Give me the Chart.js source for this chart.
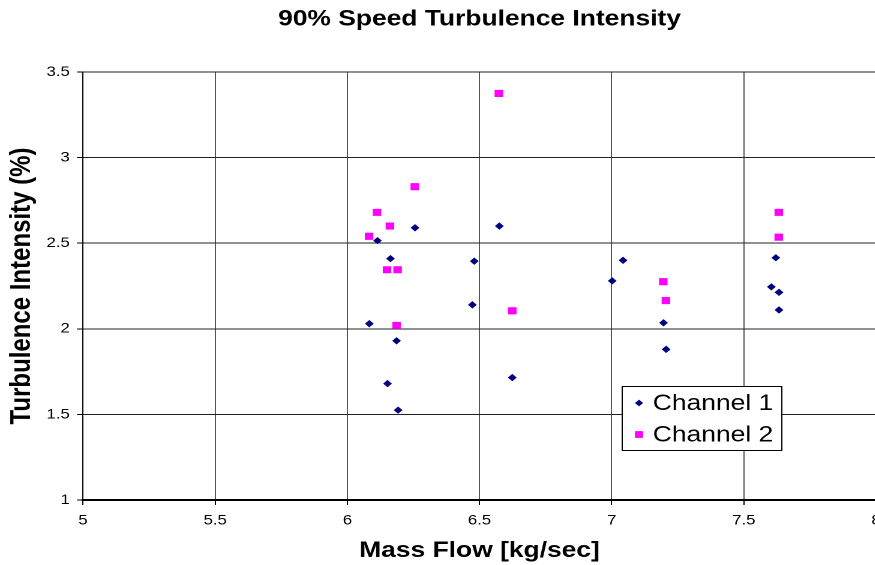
<!DOCTYPE html>
<html>
<head>
<meta charset="utf-8">
<script src="https://cdn.jsdelivr.net/npm/chart.js@4/dist/chart.umd.min.js"></script>
<style>
  html, body { margin: 0; padding: 0; background: #fff; overflow: hidden; }
  /* the reference picture is stretched sideways, so the whole chart is too */
  #wrap { width: 750px; height: 565px; transform: scaleX(1.2); transform-origin: 0 0; }
</style>
</head>
<body>
<div id="wrap"><canvas id="myChart" width="750" height="565"></canvas></div>
<script>
const seriesNames = ["Channel 1", "Channel 2"];

const massFlow1 = [6.256, 6.114, 6.163, 6.083, 6.186, 6.152, 6.192, 6.575, 6.48, 6.473,
                   6.624, 7.043, 7.002, 7.196, 7.206, 7.621, 7.604, 7.633, 7.633];
const intensity1 = [2.59, 2.515, 2.41, 2.03, 1.93, 1.68, 1.525, 2.6, 2.395, 2.14,
                    1.715, 2.4, 2.28, 2.035, 1.88, 2.415, 2.245, 2.213, 2.11];

const massFlow2 = [6.255, 6.112, 6.161, 6.082, 6.15, 6.19, 6.186, 6.573, 6.624,
                   7.195, 7.205, 7.632, 7.632];
const intensity2 = [2.83, 2.68, 2.6, 2.54, 2.345, 2.345, 2.02, 3.375, 2.105,
                    2.275, 2.165, 2.68, 2.535];

const xTickValues = [5, 5.5, 6, 6.5, 7, 7.5, 8];
const yTickValues = [1, 1.5, 2, 2.5, 3, 3.5];

const FONT = '"Liberation Sans", Arial, sans-serif';

function toPoints(xs, ys) {
  return xs.map((x, i) => ({ x: x, y: ys[i] }));
}

// legend drawn inside the plot, like the boxed Excel legend
const boxLegend = {
  id: "boxLegend",
  afterDraw(chart) {
    const ctx = chart.ctx;
    const x0 = 518, y0 = 386, w = 133, h = 64;
    ctx.save();
    ctx.fillStyle = "#fff";
    ctx.fillRect(x0, y0, w, h);
    ctx.strokeStyle = "#000";
    ctx.lineWidth = 1;
    ctx.strokeRect(x0 + 0.5, y0 + 0.5, w, h);
    chart.data.datasets.forEach((ds, i) => {
      const cx = x0 + 14.5;
      const cy = y0 + 17 + i * 31.5;
      ctx.fillStyle = ds.backgroundColor;
      ctx.beginPath();
      if (ds.pointStyle === "rectRot") {
        const r = 3.4;
        ctx.moveTo(cx - r, cy);
        ctx.lineTo(cx, cy - r);
        ctx.lineTo(cx + r, cy);
        ctx.lineTo(cx, cy + r);
      } else {
        ctx.rect(cx - 3.4, cy - 3.4, 6.8, 6.8);
      }
      ctx.closePath();
      ctx.fill();
      ctx.fillStyle = "#000";
      ctx.font = "22px " + FONT;
      ctx.textBaseline = "middle";
      ctx.textAlign = "left";
      ctx.fillText(ds.label, x0 + 26, cy + 1);
    });
    ctx.restore();
  },
};

var ctx = document.getElementById("myChart").getContext("2d");
var chart = new Chart(ctx, {
  type: "scatter",
  data: {
    datasets: [
      {
        label: seriesNames[0],
        data: toPoints(massFlow1, intensity1),
        pointStyle: "rectRot",
        pointRadius: 3.1,
        borderWidth: 0.8,
        backgroundColor: "#000080",
        borderColor: "#000080",
      },
      {
        label: seriesNames[1],
        data: toPoints(massFlow2, intensity2),
        pointStyle: "rect",
        pointRadius: 4.3,
        borderWidth: 1,
        backgroundColor: "#FF00FF",
        borderColor: "#FF00FF",
      },
    ],
  },
  options: {
    responsive: false,
    animation: false,
    devicePixelRatio: 2,
    layout: { padding: { left: 0, right: 20, top: 0, bottom: 0 } },
    plugins: {
      legend: { display: false },
      tooltip: { enabled: false },
      title: {
        display: true,
        fullSize: false,
        text: "90% Speed Turbulence Intensity",
        color: "#000",
        font: { family: FONT, size: 22, weight: "bold" },
        padding: { top: 6, bottom: 39.6 },
      },
    },
    scales: {
      x: {
        type: "linear",
        min: 5,
        max: 8,
        afterBuildTicks: (s) => { s.ticks = xTickValues.map((v) => ({ value: v })); },
        afterFit: (s) => { s.height = 65; },
        ticks: {
          color: "#000",
          font: { family: FONT, size: 14 },
          padding: 7,
          maxRotation: 0,
          callback: (v) => String(v),
        },
        grid: { color: "#555", lineWidth: 1, tickLength: 5, tickColor: "#000" },
        border: { color: "#000", width: 2 },
        title: {
          display: true,
          text: "Mass Flow [kg/sec]",
          color: "#000",
          font: { family: FONT, size: 22, weight: "bold" },
          padding: { top: 0, bottom: 1 },
        },
      },
      y: {
        type: "linear",
        min: 1,
        max: 3.5,
        afterBuildTicks: (s) => { s.ticks = yTickValues.map((v) => ({ value: v })); },
        afterFit: (s) => { s.width = 69.2; },
        ticks: {
          color: "#000",
          font: { family: FONT, size: 14 },
          padding: 6,
          callback: (v) => String(v),
        },
        grid: { color: "#222", lineWidth: 1, tickLength: 5, tickColor: "#000" },
        border: { color: "#000", width: 1 },
        title: {
          display: true,
          text: "Turbulence Intensity (%)",
          color: "#000",
          font: { family: FONT, size: 24, weight: "bold" },
          padding: { top: 4, bottom: 0 },
        },
      },
    },
  },
  plugins: [boxLegend],
});
</script>
</body>
</html>
